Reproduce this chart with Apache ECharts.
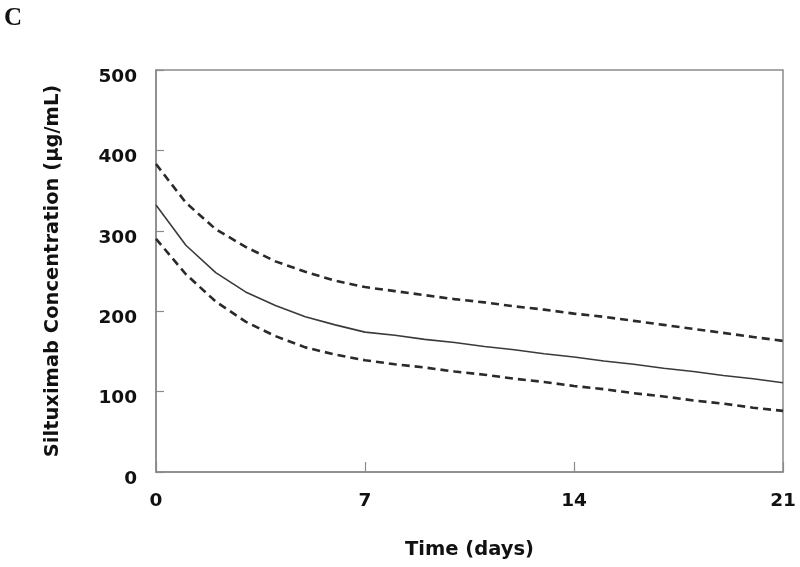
<!DOCTYPE html>
<html>
<head>
<meta charset="utf-8">
<script src="https://cdn.jsdelivr.net/npm/echarts@6/dist/echarts.min.js"></script>
<style>html,body{margin:0;padding:0;background:#fff}#c{width:800px;height:567px}</style>
</head>
<body>
<div id="c"></div>
<script>
const days = [0,1,2,3,4,5,6,7,8,9,10,11,12,13,14,15,16,17,18,19,20,21];
const upper = [383,335,302,280,262,249,238,230,225,220,215,211,206,202,197,193,188,183,178,173,168,163];
const median = [332,282,248,224,207,193,183,174,170,165,161,156,152,147,143,138,134,129,125,120,116,111];
const lower = [290,246,212,187,169,155,146,139,134,130,125,121,116,112,107,103,98,94,89,85,80,76];
const xTicks = [0,7,14,21];
const yTicks = [0,100,200,300,400,500];

const pair = arr => days.map((d,i)=>[d,arr[i]]);
const font = 'DejaVu Sans, Verdana, sans-serif';
const chart = echarts.init(document.getElementById('c'), null, {renderer:'canvas'});
chart.setOption({
  animation:false,
  backgroundColor:'#fff',
  title:{text:'C', left:0, top:0, padding:[6,4], textStyle:{fontFamily:'Liberation Serif, Times New Roman, serif', fontWeight:'bold', fontSize:25, color:'#111'}},
  grid:{left:156, top:70, right:17, bottom:95, show:true, borderColor:'#8a8a8a', borderWidth:1.5},
  xAxis:{type:'value', min:xTicks[0], max:xTicks[xTicks.length-1], interval:7,
    name:'Time (days)', nameLocation:'middle', nameGap:68,
    nameTextStyle:{fontFamily:font, fontWeight:'bold', fontSize:19.5, color:'#111'},
    axisLine:{lineStyle:{color:'#8a8a8a', width:1.5}},
    axisTick:{inside:true, length:10, lineStyle:{color:'#8a8a8a', width:1.2}},
    axisLabel:{margin:20, fontFamily:font, fontWeight:'bold', fontSize:18.5, color:'#111'},
    splitLine:{show:false}},
  yAxis:{type:'value', min:yTicks[0], max:yTicks[yTicks.length-1], interval:100,
    name:'Siltuximab Concentration (µg/mL)', nameLocation:'middle', nameGap:93,
    nameTextStyle:{fontFamily:font, fontWeight:'bold', fontSize:19.5, color:'#111'},
    axisLine:{lineStyle:{color:'#8a8a8a', width:1.5}},
    axisTick:{inside:true, length:8, lineStyle:{color:'#8a8a8a', width:1.2}},
    axisLabel:{margin:19, formatter:'{a|{value}}',
      rich:{a:{padding:[14,0,0,0], fontFamily:font, fontWeight:'bold', fontSize:18.5, color:'#111'}},
      fontFamily:font, fontWeight:'bold', fontSize:18.5, color:'#111'},
    splitLine:{show:false}},
  series:[
    {type:'line', data:pair(upper), symbol:'none', lineStyle:{color:'#2a2a2a', width:2.6, type:[8,5]}},
    {type:'line', data:pair(median), symbol:'none', lineStyle:{color:'#3a3a3a', width:1.6}},
    {type:'line', data:pair(lower), symbol:'none', lineStyle:{color:'#2a2a2a', width:2.6, type:[8,5]}}
  ]
});
</script>
</body>
</html>
